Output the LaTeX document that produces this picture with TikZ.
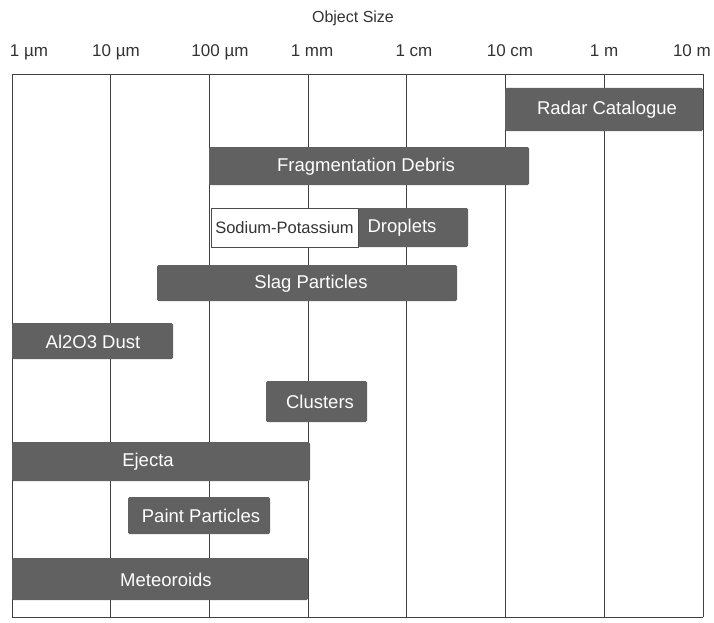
\documentclass[tikz,border=0pt]{standalone}
\usepackage{fontspec}
\setmainfont{Liberation Sans}
\begin{document}
\begin{tikzpicture}[x=1pt,y=-1pt,
  gridline/.style={draw=black!75,line width=0.9pt},
  sizebar/.style={draw=none,fill=black!62,text=white,inner sep=0pt,
    rounded corners=1.5pt},
  whitebar/.style={draw=black!70,line width=0.9pt,fill=white,text=black!80,inner sep=0pt,
    font=\fontsize{16.5}{16.5}\selectfont},
  axislabel/.style={text=black!80,inner sep=0pt,font=\fontsize{17}{17}\selectfont},
  titlelabel/.style={text=black!80,inner sep=0pt,font=\fontsize{16}{16}\selectfont},
  bartext/.style={text=white,inner sep=0pt,font=\fontsize{18.5}{18.5}\selectfont}]
\useasboundingbox (0,0) rectangle (714,623);

% title and decade labels
\node[titlelabel] (title) at (353,18) {Object Size};
\node[axislabel,anchor=base] (l1) at (29,57) {1 µm};
\node[axislabel,anchor=base] (l2) at (116,57) {10 µm};
\node[axislabel,anchor=base] (l3) at (220,57) {100 µm};
\node[axislabel,anchor=base] (l4) at (312,57) {1 mm};
\node[axislabel,anchor=base] (l5) at (414,57) {1 cm};
\node[axislabel,anchor=base] (l6) at (510,57) {10 cm};
\node[axislabel,anchor=base] (l7) at (604,57) {1 m};
\node[axislabel,anchor=base east] (l8) at (711,57) {10 m};

% frame and decade grid
\draw[gridline] (12,74) -- (703,74);
\draw[gridline] (12,617) -- (703,617);
\foreach \gx in {12,110.6,209.3,308,406.6,505.3,604,703}
  \draw[gridline] (\gx,74) -- (\gx,617);

% size ranges
\node[sizebar,minimum width=198,minimum height=43] (radar) at (604,109.5) {};
\node[bartext] (radart) at (607,110) {Radar Catalogue};

\node[sizebar,minimum width=320,minimum height=38] (frag) at (369,166) {};
\node[bartext] (fragt) at (366,166.5) {Fragmentation Debris};

\node[sizebar,minimum width=110,minimum height=39] (drop) at (413,227.5) {};
\node[whitebar,minimum width=147,minimum height=39] (sodium) at (284.5,227.5) {Sodium-Potassium};
\node[bartext] (dropt) at (402,228) {Droplets};

\node[sizebar,minimum width=300,minimum height=36] (slag) at (307,283) {};
\node[bartext] (slagt) at (311,283.5) {Slag Particles};

\node[sizebar,minimum width=161,minimum height=36] (dust) at (92.5,341) {};
\node[bartext] (dustt) at (93,341.5) {Al2O3 Dust};

\node[sizebar,minimum width=101,minimum height=41] (clusters) at (316.5,401.5) {};
\node[bartext] (clusterst) at (320,402) {Clusters};

\node[sizebar,minimum width=298,minimum height=39] (ejecta) at (161,461.5) {};
\node[bartext] (ejectat) at (148,462) {Ejecta};

\node[sizebar,minimum width=142,minimum height=37] (paint) at (199,515.5) {};
\node[bartext] (paintt) at (201,516) {Paint Particles};

\node[sizebar,minimum width=296,minimum height=42] (meteor) at (160,579) {};
\node[bartext] (meteort) at (166,579.5) {Meteoroids};
\end{tikzpicture}
\end{document}
